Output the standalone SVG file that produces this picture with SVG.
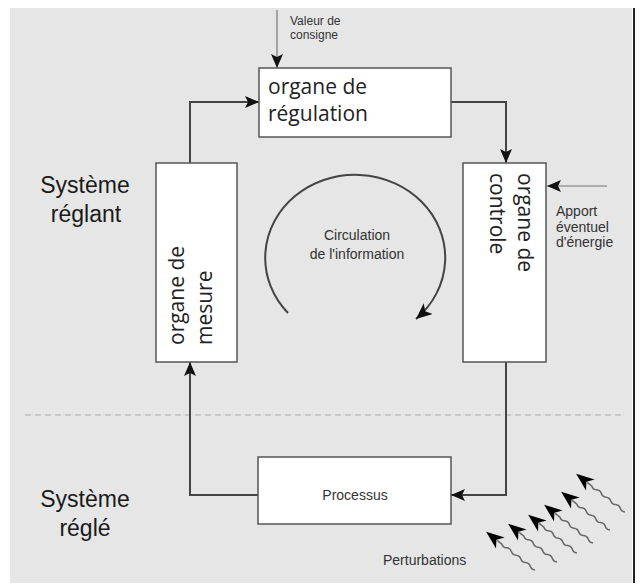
<svg xmlns="http://www.w3.org/2000/svg" width="640" height="587" viewBox="0 0 640 587">
<style>
.box{fill:#fff;stroke:#555;stroke-width:1.5}
.conn{fill:none;stroke:#444;stroke-width:2}
.thin{fill:none;stroke:#777;stroke-width:1.2}
.btxt{font-family:"Open Sans",sans-serif;font-size:21px;fill:#222}
.lbl{font-family:"Liberation Sans",Arial,sans-serif;font-size:23px;fill:#1a1a1a;text-anchor:middle}
.small{font-family:"Liberation Sans",Arial,sans-serif;font-size:14px;fill:#333}
.tiny{font-family:"Liberation Sans",Arial,sans-serif;font-size:12px;fill:#333}
</style>
<defs>
<marker id="ah" viewBox="0 0 14 12" refX="14" refY="6" markerWidth="14" markerHeight="12" markerUnits="userSpaceOnUse" orient="auto">
<path d="M0,0 L14,6 L0,12 L3,6 z" fill="#111"/>
</marker>
<marker id="ah2" viewBox="0 0 16 14" refX="16" refY="7" markerWidth="16" markerHeight="14" markerUnits="userSpaceOnUse" orient="auto">
<path d="M0,0 L16,7 L0,14 L4,7 z" fill="#111"/>
</marker>
<g id="pert">
<path d="M0,0 q3,-2 6,0 t6,0 t6,0 t6,0 t6,0 t6,0 t6,0 l6,0" fill="none" stroke="#666" stroke-width="1.5"/>
<path d="M44,-7 L62,0 L44,7 L49,0 z" fill="#000"/>
</g>
</defs>
<rect x="10" y="8" width="622" height="575" fill="#e6e6e6"/>
<line x1="634" y1="8" x2="634" y2="583" stroke="#222" stroke-width="2"/>
<line x1="25" y1="415" x2="622" y2="415" stroke="#aaa" stroke-width="1" stroke-dasharray="6 4"/>

<g id="connectors">
<path class="conn" d="M190,163 L190,102 L259,102" marker-end="url(#ah)"/>
<path class="conn" d="M451,102 L506,102 L506,163" marker-end="url(#ah)"/>
<path class="conn" d="M506,362 L506,495 L451,495" marker-end="url(#ah)"/>
<path class="conn" d="M258,495 L190,495 L190,362" marker-end="url(#ah)"/>
<path class="thin" d="M277,10 L277,68" marker-end="url(#ah)"/>
<path class="thin" d="M607,186 L547,186" marker-end="url(#ah)"/>
<path d="M288,313 A90,83 0 1 1 416,319" fill="none" stroke="#444" stroke-width="2" marker-end="url(#ah2)"/>
</g>

<g id="regulation">
<rect class="box" x="259" y="68" width="192" height="69"/>
<text class="btxt" x="268" y="94">organe de</text>
<text class="btxt" x="268" y="121">régulation</text>
</g>

<g id="mesure">
<rect class="box" x="156" y="163" width="81" height="199"/>
<text class="btxt" transform="translate(184,345) rotate(-90)">organe de</text>
<text class="btxt" transform="translate(212,345) rotate(-90)">mesure</text>
</g>

<g id="controle">
<rect class="box" x="463" y="163" width="83" height="199"/>
<text class="btxt" transform="translate(518,173) rotate(90)">organe de</text>
<text class="btxt" transform="translate(490,173) rotate(90)">controle</text>
</g>

<g id="processus">
<rect class="box" x="258" y="457" width="193" height="67"/>
<text class="small" x="355" y="500" text-anchor="middle" font-size="15">Processus</text>
</g>

<g id="labels">
<text class="tiny" x="290" y="25">Valeur de</text>
<text class="tiny" x="290" y="39">consigne</text>
<text class="small" x="556" y="216">Apport</text>
<text class="small" x="556" y="232">éventuel</text>
<text class="small" x="556" y="247">d'énergie</text>
<text class="small" x="357" y="240" text-anchor="middle" fill="#555">Circulation</text>
<text class="small" x="357" y="259" text-anchor="middle" fill="#223">de l'information</text>
<text class="lbl" x="85" y="193">Système</text>
<text class="lbl" x="86" y="222">réglant</text>
<text class="lbl" x="85" y="507">Système</text>
<text class="lbl" x="85" y="536">réglé</text>
<text class="small" x="383" y="565" font-size="15">Perturbations</text>
</g>

<g id="perturbations">
<use href="#pert" transform="translate(535,570) rotate(218)"/>
<use href="#pert" transform="translate(557,562) rotate(218)"/>
<use href="#pert" transform="translate(577,553) rotate(218)"/>
<use href="#pert" transform="translate(593,543) rotate(218)"/>
<use href="#pert" transform="translate(610,530) rotate(218)"/>
<use href="#pert" transform="translate(625,512) rotate(218)"/>
</g>
</svg>
